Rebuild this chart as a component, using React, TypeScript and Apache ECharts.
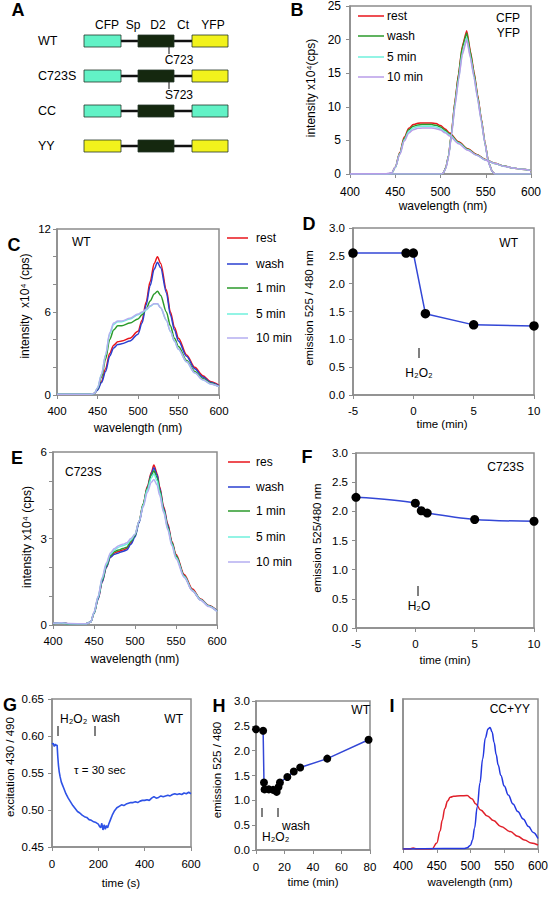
import React, { useEffect, useRef } from "react";
import * as echarts from "echarts";

const FONT = '"Liberation Sans", Arial, Helvetica, "DejaVu Sans", sans-serif';
const GRAY = "#8c8c8c";

// ---------- colours ----------
const RED = "#e8141b";
const BLUE = "#2a3fd0";
const GREEN = "#2b9a2b";
const CYAN = "#6ff0dc";
const LAV = "#b4aef0";
const LAV_B = "#b89ce8";
const DOT_LINE = "#3347d6";

// ---------- panel A (schematic) ----------
const aHeaders = ["CFP", "Sp", "D2", "Ct", "YFP"];
const aRows = ["WT", "C723S", "CC", "YY"];
const aLeftFp = ["cfp", "cfp", "cfp", "yfp"];
const aRightFp = ["yfp", "yfp", "cfp", "yfp"];
const aSites = ["C723", "S723"];

// ---------- panel B ----------
const bCfpWl = [400, 440, 446, 450, 455, 460, 465, 470, 475, 480, 490, 495, 500, 505, 510, 520, 530, 540, 550, 560, 570, 580, 590, 600];
const bCfpRest = [0, 0, 0.1, 1.0, 3.2, 5.5, 6.8, 7.35, 7.55, 7.6, 7.6, 7.5, 7.2, 6.7, 6.1, 4.8, 3.75, 2.9, 2.15, 1.6, 1.2, 0.9, 0.7, 0.5];
const bCfpWash = [0, 0, 0.1, 1.0, 3.1, 5.3, 6.6, 7.1, 7.3, 7.35, 7.35, 7.25, 7.0, 6.5, 5.95, 4.7, 3.7, 2.85, 2.1, 1.58, 1.18, 0.9, 0.7, 0.5];
const bCfp5 = [0, 0, 0.1, 0.95, 3.0, 5.1, 6.35, 6.85, 7.05, 7.1, 7.1, 7.0, 6.75, 6.3, 5.8, 4.6, 3.6, 2.8, 2.08, 1.56, 1.17, 0.9, 0.7, 0.5];
const bCfp10 = [0, 0.05, 0.2, 1.0, 2.9, 4.9, 6.1, 6.6, 6.8, 6.85, 6.85, 6.75, 6.55, 6.15, 5.65, 4.5, 3.55, 2.78, 2.06, 1.55, 1.16, 0.9, 0.7, 0.5];
const bYfpWl = [400, 500, 503, 506, 509, 512, 516, 520, 524, 529, 533, 537, 541, 545, 549, 553, 557, 560, 600];
const bYfpRest = [0, 0, 0.1, 1.0, 2.8, 6.0, 10.9, 15.0, 19.0, 21.3, 18.3, 15.2, 11.8, 8.3, 4.8, 1.8, 0.4, 0, 0];
const bYfpWash = [0, 0, 0.1, 1.0, 2.8, 5.9, 10.7, 14.8, 18.8, 21.0, 18.1, 15.0, 11.6, 8.2, 4.7, 1.8, 0.4, 0, 0];
const bYfp5 = [0, 0, 0.1, 0.9, 2.7, 5.7, 10.3, 14.2, 18.0, 20.3, 17.5, 14.6, 11.3, 8.0, 4.6, 1.7, 0.4, 0, 0];
const bYfp10 = [0, 0, 0.1, 0.9, 2.6, 5.6, 10.1, 14.0, 17.7, 20.0, 17.3, 14.4, 11.2, 7.9, 4.6, 1.7, 0.4, 0, 0];
const bLegend = ["rest", "wash", "5 min", "10 min"];

// ---------- panel C (WT) ----------
const cWl = [400, 440, 446, 450, 455, 460, 465, 470, 475, 480, 490, 500, 505, 510, 515, 520, 524, 528, 535, 540, 545, 550, 560, 570, 580, 590, 600];
const cRest = [0.05, 0.05, 0.1, 0.4, 1.0, 1.9, 3.0, 3.6, 3.85, 3.9, 4.1, 4.6, 5.4, 6.7, 8.2, 9.5, 10.0, 9.5, 7.6, 6.0, 4.9, 4.1, 2.9, 2.0, 1.4, 0.95, 0.7];
const cWash = [0.05, 0.05, 0.1, 0.35, 0.9, 1.7, 2.8, 3.4, 3.65, 3.7, 3.9, 4.4, 5.2, 6.5, 7.9, 9.1, 9.6, 9.2, 7.4, 5.8, 4.7, 3.9, 2.8, 1.9, 1.3, 0.9, 0.65];
const c1 = [0.05, 0.05, 0.1, 0.45, 1.3, 2.6, 4.0, 4.7, 5.0, 5.0, 5.2, 5.5, 5.8, 6.2, 6.8, 7.3, 7.5, 7.2, 6.0, 5.0, 4.1, 3.5, 2.5, 1.7, 1.2, 0.85, 0.6];
const c5 = [0.05, 0.05, 0.1, 0.5, 1.5, 2.9, 4.4, 5.1, 5.3, 5.3, 5.5, 5.8, 5.95, 6.15, 6.4, 6.6, 6.6, 6.3, 5.4, 4.6, 3.9, 3.3, 2.4, 1.6, 1.1, 0.8, 0.6];
const c10 = [0.05, 0.05, 0.1, 0.5, 1.5, 2.9, 4.5, 5.2, 5.35, 5.35, 5.55, 5.85, 6.0, 6.2, 6.45, 6.6, 6.6, 6.3, 5.4, 4.6, 3.9, 3.3, 2.4, 1.6, 1.1, 0.8, 0.6];
const cLegend = ["rest", "wash", "1 min", "5 min", "10 min"];

// ---------- panel D (WT ratio) ----------
const dT = [-5, -0.6, 0, 1, 5, 10];
const dR = [2.55, 2.55, 2.55, 1.46, 1.26, 1.24];

// ---------- panel E (C723S) ----------
const eWl = [400, 410, 420, 440, 446, 450, 455, 460, 465, 470, 475, 480, 485, 490, 495, 500, 505, 510, 515, 520, 523, 527, 530, 535, 540, 545, 550, 560, 570, 580, 590, 600];
const eRest = [0.05, 0.08, 0.04, 0.04, 0.1, 0.4, 0.9, 1.5, 2.0, 2.35, 2.5, 2.55, 2.6, 2.65, 2.85, 3.1, 3.6, 4.2, 4.8, 5.3, 5.55, 5.25, 4.8, 4.1, 3.5, 2.9, 2.45, 1.75, 1.25, 0.9, 0.68, 0.5];
const eWash = [0.05, 0.08, 0.04, 0.04, 0.1, 0.4, 0.9, 1.5, 2.0, 2.35, 2.45, 2.5, 2.55, 2.6, 2.8, 3.05, 3.55, 4.15, 4.75, 5.25, 5.45, 5.2, 4.75, 4.05, 3.45, 2.85, 2.4, 1.7, 1.2, 0.88, 0.66, 0.49];
const e1 = [0.05, 0.07, 0.04, 0.04, 0.1, 0.42, 0.95, 1.55, 2.05, 2.4, 2.55, 2.6, 2.65, 2.7, 2.9, 3.1, 3.6, 4.2, 4.75, 5.2, 5.35, 5.1, 4.7, 4.0, 3.4, 2.85, 2.4, 1.7, 1.2, 0.88, 0.66, 0.48];
const e5 = [0.05, 0.07, 0.04, 0.04, 0.1, 0.42, 0.95, 1.6, 2.1, 2.45, 2.6, 2.7, 2.75, 2.8, 2.95, 3.15, 3.6, 4.15, 4.7, 5.1, 5.25, 5.0, 4.6, 3.95, 3.35, 2.8, 2.35, 1.68, 1.2, 0.88, 0.65, 0.48];
const e10 = [0.06, 0.08, 0.05, 0.04, 0.1, 0.45, 1.0, 1.65, 2.15, 2.5, 2.65, 2.75, 2.8, 2.85, 3.0, 3.15, 3.6, 4.1, 4.6, 4.95, 5.05, 4.85, 4.5, 3.9, 3.3, 2.75, 2.3, 1.65, 1.18, 0.86, 0.64, 0.47];
const eLegend = ["res", "wash", "1 min", "5 min", "10 min"];

// ---------- panel F (C723S ratio) ----------
const fT = [-5, 0, 0.5, 1, 5, 10];
const fR = [2.24, 2.14, 2.01, 1.97, 1.86, 1.83];

// ---------- panel G (excitation trace) ----------
const gT = [0, 5, 10, 15, 20, 22, 25, 28, 31, 35, 40, 45, 50, 55, 60, 70, 80, 90, 100, 110, 120, 130, 140, 150, 160, 170, 180, 190, 200, 205, 210, 215, 220, 225, 230, 235, 240, 245, 250, 255, 260, 270, 280, 290, 300, 310, 320, 330, 340, 350, 360, 370, 380, 390, 400, 410, 420, 430, 440, 450, 460, 470, 480, 490, 500, 510, 520, 530, 540, 550, 560, 570, 580, 590, 600];
const gR = [0.589, 0.59, 0.586, 0.589, 0.587, 0.588, 0.572, 0.56, 0.552, 0.545, 0.538, 0.534, 0.53, 0.526, 0.522, 0.516, 0.511, 0.506, 0.502, 0.498, 0.496, 0.493, 0.491, 0.49, 0.487, 0.486, 0.484, 0.483, 0.481, 0.478, 0.476, 0.482, 0.473, 0.48, 0.474, 0.479, 0.476, 0.481, 0.485, 0.489, 0.493, 0.499, 0.503, 0.505, 0.507, 0.506, 0.508, 0.509, 0.51, 0.51, 0.511, 0.51, 0.512, 0.513, 0.513, 0.514, 0.513, 0.516, 0.518, 0.516, 0.517, 0.519, 0.518, 0.519, 0.52, 0.519, 0.521, 0.522, 0.521, 0.522, 0.521, 0.523, 0.522, 0.524, 0.522];

// ---------- panel H (long time course) ----------
const hT = [0, 5, 5.6, 6, 9, 12, 14.5, 15.8, 16.8, 22, 26.5, 31, 50, 79];
const hR = [2.43, 2.4, 1.36, 1.22, 1.22, 1.21, 1.17, 1.27, 1.36, 1.47, 1.58, 1.66, 1.84, 2.22];

// ---------- panel I (CC + YY) ----------
const iRedWl = [400, 410, 415, 420, 430, 443, 450, 455, 458, 462, 466, 470, 475, 485, 495, 502, 508, 515, 525, 534, 545, 559, 570, 580, 590, 600];
const iRed = [0, 0, 0.006, 0, 0, 0, 0.04, 0.12, 0.19, 0.27, 0.32, 0.345, 0.352, 0.355, 0.356, 0.335, 0.3, 0.26, 0.22, 0.19, 0.15, 0.116, 0.085, 0.06, 0.04, 0.027];
const iBlueWl = [400, 490, 495, 500, 503, 506, 510, 514, 518, 522, 526, 529, 532, 535, 538, 541, 545, 550, 556, 563, 570, 578, 586, 593, 600];
const iBlue = [0, 0.003, 0.008, 0.025, 0.06, 0.14, 0.28, 0.44, 0.6, 0.74, 0.8, 0.81, 0.78, 0.71, 0.63, 0.56, 0.49, 0.42, 0.36, 0.3, 0.25, 0.2, 0.15, 0.11, 0.07];

const zip = (xs: number[], ys: number[]) => xs.map((x, i) => [x, ys[i]]);

function xAx(gi: number, min: number, max: number, interval: number, fs = 11, margin = 10, show = true) {
  return {
    type: "value", gridIndex: gi, min, max, interval,
    axisLine: { show: true, onZero: false, lineStyle: { color: GRAY, width: 1.5 } },
    axisTick: { show: true, length: 4, lineStyle: { color: GRAY, width: 1 } },
    axisLabel: { show, color: "#000", fontSize: fs, fontFamily: FONT, margin },
    splitLine: { show: false },
  };
}
function yAx(gi: number, min: number, max: number, interval: number, fmt: (v: number) => string, fs = 11, margin = 8, show = true) {
  return {
    type: "value", gridIndex: gi, min, max, interval,
    axisLine: { show: true, onZero: false, lineStyle: { color: GRAY, width: 1.5 } },
    axisTick: { show, length: 4, lineStyle: { color: GRAY, width: 1 } },
    axisLabel: { show, color: "#000", fontSize: fs, fontFamily: FONT, margin, formatter: fmt },
    splitLine: { show: false },
  };
}

function lineS(gi: number, xs: number[], ys: number[], color: string, width = 1.5, smooth: number | boolean = 0.3) {
  return {
    type: "line", xAxisIndex: gi, yAxisIndex: gi, data: zip(xs, ys),
    showSymbol: false, symbol: "none", smooth, smoothMonotone: "x",
    lineStyle: { color, width }, itemStyle: { color }, silent: true,
  };
}
function dotS(gi: number, xs: number[], ys: number[], size: number, smooth: number | boolean = false) {
  return {
    type: "line", xAxisIndex: gi, yAxisIndex: gi, data: zip(xs, ys),
    showSymbol: true, symbol: "circle", symbolSize: size, smooth,
    lineStyle: { color: DOT_LINE, width: 1.5 }, itemStyle: { color: "#000", borderWidth: 0 }, silent: true,
  };
}

function txt(x: number, y: number, text: string, o: any = {}) {
  const align = o.align || "center";
  const size = o.size || 12;
  const weight = o.bold ? "bold" : "normal";
  return {
    type: "text", x, y, rotation: o.rot || 0, z: 100,
    style: {
      text, fill: "#000",
      font: `${weight} ${size}px ${FONT}`,
      align, textAlign: align, verticalAlign: "middle", textVerticalAlign: "middle",
    },
  };
}
function ln(x1: number, y1: number, x2: number, y2: number, color = "#000", w = 1) {
  return { type: "line", z: 100, shape: { x1, y1, x2, y2 }, style: { stroke: color, lineWidth: w } };
}
function box(x: number, y: number, w: number, h: number, fill: string) {
  return { type: "rect", z: 100, shape: { x, y, width: w, height: h }, style: { fill, stroke: "#25352a", lineWidth: 0.8 } };
}

const FP_COL: Record<string, string> = { cfp: "#62f2c6", yfp: "#f2f21c" };

function buildGraphic() {
  const g: any[] = [];
  // panel letters
  const letters: [string, number, number][] = [
    ["A", 18, 10], ["B", 297, 10], ["C", 14, 245], ["D", 309, 224], ["E", 17, 458],
    ["F", 307, 457], ["G", 10, 705], ["H", 219, 706], ["I", 392, 706],
  ];
  letters.forEach(([t, x, y]) => g.push(txt(x, y, t, { size: 18, bold: true })));

  // panel A
  const hx = [107, 133, 158, 183, 213];
  aHeaders.forEach((h, i) => g.push(txt(hx[i], 25, h, { size: 12 })));
  const rowY = [41, 76, 111, 146];
  aRows.forEach((r, i) => {
    const y = rowY[i];
    g.push(txt(38, y, r, { size: 12.5, align: "left" }));
    g.push(ln(121, y, 192, y, "#111", 2.7));
    g.push(box(84, y - 6, 37, 12, FP_COL[aLeftFp[i]]));
    g.push(box(138, y - 6, 36, 12, "#15280f"));
    g.push(box(192, y - 6, 36, 12, FP_COL[aRightFp[i]]));
  });
  aSites.forEach((s, i) => {
    const y = rowY[i];
    g.push(ln(169, y + 6, 169, y + 13, "#111", 1));
    g.push(txt(179, y + 19, s, { size: 12 }));
  });

  // B legend
  const bCols = [RED, GREEN, CYAN, LAV_B];
  const bRows = [16, 36, 57, 77];
  bLegend.forEach((n, i) => {
    g.push(ln(358, bRows[i], 384, bRows[i], bCols[i], 1.5));
    g.push(txt(387, bRows[i], n, { size: 12, align: "left" }));
  });
  g.push(txt(520, 18, "CFP", { size: 12, align: "right" }));
  g.push(txt(520, 33, "YFP", { size: 12, align: "right" }));

  // C legend
  const cCols = [RED, BLUE, GREEN, CYAN, LAV];
  const cRows = [238, 264, 288, 314, 338];
  cLegend.forEach((n, i) => {
    g.push(ln(227, cRows[i], 248, cRows[i], cCols[i], 1.5));
    g.push(txt(256, cRows[i], n, { size: 12, align: "left" }));
  });
  // E legend
  const eRows = [462, 487, 511, 537, 562];
  eLegend.forEach((n, i) => {
    g.push(ln(228, eRows[i], 250, eRows[i], cCols[i], 1.5));
    g.push(txt(256, eRows[i], n, { size: 12, align: "left" }));
  });

  // axis titles
  const R = Math.PI / 2;
  g.push(txt(311, 88, "intensity x10⁴(cps)", { rot: R, size: 12 }));
  g.push(txt(443, 206, "wavelength (nm)", { size: 12 }));
  g.push(txt(25, 306, "intensity  x10⁴ (cps)", { rot: R, size: 12 }));
  g.push(txt(138, 428, "wavelength (nm)", { size: 12 }));
  g.push(txt(309, 308, "emission 525 / 480 nm", { rot: R, size: 11.5 }));
  g.push(txt(442, 424, "time (min)", { size: 11.5 }));
  g.push(txt(27, 537, "intensity x10⁴ (cps)", { rot: R, size: 12 }));
  g.push(txt(135, 659, "wavelength (nm)", { size: 12 }));
  g.push(txt(317, 538, "emission 525/480 nm", { rot: R, size: 11.5 }));
  g.push(txt(445, 660, "time (min)", { size: 11.5 }));
  g.push(txt(10, 767, "excitation 430 / 490", { rot: R, size: 11.5 }));
  g.push(txt(121, 883, "time (s)", { size: 11.5 }));
  g.push(txt(217, 770, "emission 525 / 480", { rot: R, size: 11.5 }));
  g.push(txt(313, 882, "time (min)", { size: 11.5 }));
  g.push(txt(470, 882, "wavelength (nm)", { size: 11.5 }));

  // in-plot annotations
  g.push(txt(72, 242, "WT", { size: 12, align: "left" }));
  g.push(txt(518, 243, "WT", { size: 12, align: "right" }));
  g.push(ln(419, 348, 419, 358));
  g.push(txt(419, 373, "H₂O₂", { size: 12 }));
  g.push(txt(65, 472, "C723S", { size: 12, align: "left" }));
  g.push(txt(524, 467, "C723S", { size: 12, align: "right" }));
  g.push(ln(418, 586, 418, 596));
  g.push(txt(419, 606, "H₂O", { size: 12 }));
  g.push(txt(183, 719, "WT", { size: 12, align: "right" }));
  g.push(txt(60, 719, "H₂O₂", { size: 12, align: "left" }));
  g.push(ln(58, 726, 58, 736));
  g.push(txt(92, 718, "wash", { size: 12, align: "left" }));
  g.push(ln(95, 726, 95, 736));
  g.push(txt(74, 770, "τ = 30 sec", { size: 11.5, align: "left" }));
  g.push(txt(370, 710, "WT", { size: 12, align: "right" }));
  g.push(ln(262, 808, 262, 817));
  g.push(ln(278, 808, 278, 817));
  g.push(txt(282, 826, "wash", { size: 12, align: "left" }));
  g.push(txt(262, 837, "H₂O₂", { size: 12, align: "left" }));
  g.push(txt(530, 709, "CC+YY", { size: 12, align: "right" }));
  return g;
}

const f1 = (v: number) => v.toFixed(1);
const f2 = (v: number) => v.toFixed(2);
const fInt = (v: number) => String(Math.round(v));

function buildOption() {
  const gridBase = { show: true, borderColor: GRAY, borderWidth: 1.5, backgroundColor: "transparent", containLabel: false };
  const grids = [
    { left: 350, top: 4, width: 181, height: 170 },
    { left: 57, top: 229, width: 162, height: 166 },
    { left: 353, top: 228, width: 181, height: 167 },
    { left: 53, top: 452, width: 164, height: 173 },
    { left: 356, top: 453, width: 178, height: 175 },
    { left: 52, top: 699, width: 139, height: 148 },
    { left: 256, top: 701, width: 114, height: 149 },
    { left: 403, top: 699, width: 135, height: 150 },
  ].map((g) => ({ ...gridBase, ...g }));

  const xAxis = [
    xAx(0, 400, 600, 50, 12, 12),
    xAx(1, 400, 600, 50, 11.5, 10),
    xAx(2, -5, 10, 5, 11.5, 10),
    xAx(3, 400, 600, 50, 11.5, 10),
    xAx(4, -5, 10, 5, 11.5, 10),
    xAx(5, 0, 600, 200, 11.5, 11),
    xAx(6, 0, 80, 20, 11.5, 11),
    xAx(7, 400, 600, 50, 12, 11),
  ];
  const yAxis = [
    yAx(0, 0, 25, 5, fInt, 12, 9),
    yAx(1, 0, 12, 2, (v) => (Math.round(v) % 6 === 0 ? String(Math.round(v)) : ""), 11.5, 6),
    yAx(2, 0, 3, 0.5, f1, 11.5, 8),
    yAx(3, 0, 6, 1, (v) => (Math.round(v) % 3 === 0 ? String(Math.round(v)) : ""), 11.5, 6),
    yAx(4, 0, 3, 0.5, f1, 11.5, 8),
    yAx(5, 0.45, 0.65, 0.05, f2, 11.5, 8),
    yAx(6, 0, 3, 0.5, f1, 11.5, 6),
    yAx(7, 0, 1, 0.5, f1, 11, 6, false),
  ];

  const series: any[] = [
    // B
    lineS(0, bCfpWl, bCfpRest, RED), lineS(0, bYfpWl, bYfpRest, RED, 1.5, 0.15),
    lineS(0, bCfpWl, bCfpWash, GREEN), lineS(0, bYfpWl, bYfpWash, GREEN, 1.5, 0.15),
    lineS(0, bCfpWl, bCfp5, CYAN), lineS(0, bYfpWl, bYfp5, CYAN, 1.5, 0.15),
    lineS(0, bCfpWl, bCfp10, LAV_B), lineS(0, bYfpWl, bYfp10, LAV_B, 1.5, 0.15),
    // C
    lineS(1, cWl, cRest, RED), lineS(1, cWl, cWash, BLUE), lineS(1, cWl, c1, GREEN),
    lineS(1, cWl, c5, CYAN), lineS(1, cWl, c10, LAV),
    // D
    dotS(2, dT, dR, 9.5),
    // E
    lineS(3, eWl, eRest, RED), lineS(3, eWl, eWash, BLUE), lineS(3, eWl, e1, GREEN),
    lineS(3, eWl, e5, CYAN), lineS(3, eWl, e10, LAV),
    // F
    dotS(4, fT, fR, 9, 0.3),
    // G
    lineS(5, gT, gR, "#2e52e6", 1.6, false),
    // H
    dotS(6, hT, hR, 8),
    // I
    lineS(7, iRedWl, iRed, "#e0202a", 1.5, 0.4),
    lineS(7, iBlueWl, iBlue, "#2438e0", 1.5, 0.4),
  ];

  return {
    animation: false,
    backgroundColor: "#fff",
    textStyle: { fontFamily: FONT },
    grid: grids,
    xAxis,
    yAxis,
    series,
    graphic: buildGraphic(),
  };
}

export default function App() {
  const ref = useRef<HTMLDivElement>(null);
  useEffect(() => {
    const chart = echarts.init(ref.current!, null, { renderer: "svg" });
    chart.setOption(buildOption() as any);
    return () => chart.dispose();
  }, []);
  return (
    <div
      ref={ref}
      style={{ position: "absolute", left: 0, top: 0, width: 552, height: 900, background: "#fff" }}
    />
  );
}
